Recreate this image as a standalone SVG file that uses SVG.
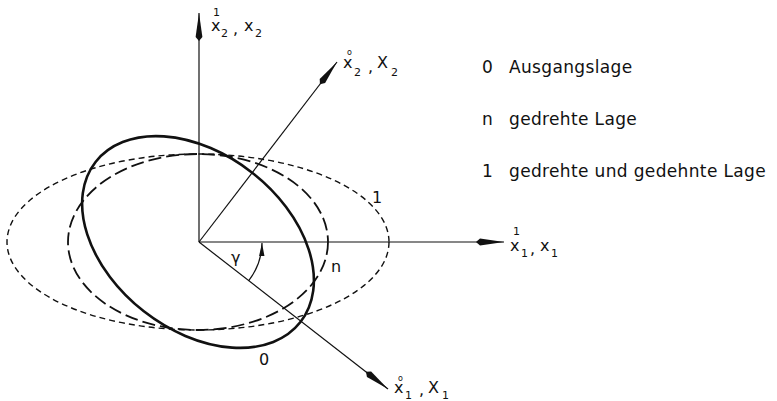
<svg xmlns="http://www.w3.org/2000/svg" width="777" height="401" viewBox="0 0 777 401">
<style>
.axis{stroke:#111;stroke-width:1.2;fill:none}
.e0{stroke:#111;stroke-width:2.6;fill:none}
.en{stroke:#111;stroke-width:1.8;fill:none;stroke-dasharray:13 5}
.e1{stroke:#111;stroke-width:1.4;fill:none;stroke-dasharray:6 4}
text{font-family:"DejaVu Sans","Liberation Sans",sans-serif;fill:#111}
.lg{font-size:17px;letter-spacing:0.35px}
.v{font-size:16px}
.s{font-size:11px}
.r{font-size:8px}
.cl{font-size:16px}
</style>
<defs>
<marker id="ah" markerUnits="userSpaceOnUse" markerWidth="30" markerHeight="8" refX="28" refY="4" orient="auto">
<path d="M0,4 L4,0.6 L28,4 L4,7.4 z" fill="#111"/>
</marker>
<marker id="ahs" markerUnits="userSpaceOnUse" markerWidth="14" markerHeight="7" refX="13" refY="3.5" orient="auto">
<path d="M0,0.8 L13,3.5 L0,6.2 z" fill="#111"/>
</marker>
</defs>
<g id="ellipses">
<ellipse id="ellipse-1" class="e1" cx="198" cy="242" rx="191" ry="88"/>
<ellipse id="ellipse-n" class="en" cx="198" cy="242" rx="130" ry="88"/>
<ellipse id="ellipse-0" class="e0" cx="198" cy="242" rx="130" ry="88" transform="rotate(38 198 242)"/>
</g>
<g id="connectors">
<line class="axis" x1="199" y1="242" x2="199" y2="13" marker-end="url(#ah)"/>
<line class="axis" x1="199" y1="242" x2="504" y2="242" marker-end="url(#ah)"/>
<line class="axis" x1="199" y1="242" x2="337" y2="62" marker-end="url(#ah)"/>
<line class="axis" x1="199" y1="242" x2="388" y2="389" marker-end="url(#ah)"/>
<path class="axis" d="M248.6,280.8 A63,63 0 0 0 262,243" marker-end="url(#ahs)"/>
</g>
<g id="label-x2">
<text class="s" x="213" y="16">1</text>
<text class="v" x="211" y="31">x</text>
<text class="s" x="221" y="37">2</text>
<text class="v" x="233" y="34">,</text>
<text class="v" x="244" y="31">x</text>
<text class="s" x="255" y="37">2</text>
</g>
<g id="label-x1">
<text class="s" x="513" y="235">1</text>
<text class="v" x="510" y="251">x</text>
<text class="s" x="521" y="257">1</text>
<text class="v" x="530" y="254">,</text>
<text class="v" x="540" y="251">x</text>
<text class="s" x="551" y="257">1</text>
</g>
<g id="label-X2">
<text class="r" x="347" y="55">o</text>
<text class="v" x="343" y="68">x</text>
<text class="s" x="354" y="76">2</text>
<text class="v" x="368" y="72">,</text>
<text class="v" x="377" y="68">X</text>
<text class="s" x="391" y="76">2</text>
</g>
<g id="label-X1">
<text class="r" x="398" y="381">o</text>
<text class="v" x="394" y="393">x</text>
<text class="s" x="405" y="399">1</text>
<text class="v" x="419" y="395">,</text>
<text class="v" x="428" y="393">X</text>
<text class="s" x="442" y="399">1</text>
</g>
<g id="curve-labels">
<text class="cl" x="372" y="203">1</text>
<text class="cl" x="331" y="272">n</text>
<text class="cl" x="259" y="365">0</text>
<text class="cl" x="231" y="263">γ</text>
</g>
<g id="legend">
<text class="lg" x="482" y="73">0</text>
<text class="lg" x="509" y="73">Ausgangslage</text>
<text class="lg" x="482" y="125">n</text>
<text class="lg" x="509" y="125">gedrehte Lage</text>
<text class="lg" x="482" y="177">1</text>
<text class="lg" x="509" y="177">gedrehte und gedehnte Lage</text>
</g>
</svg>
